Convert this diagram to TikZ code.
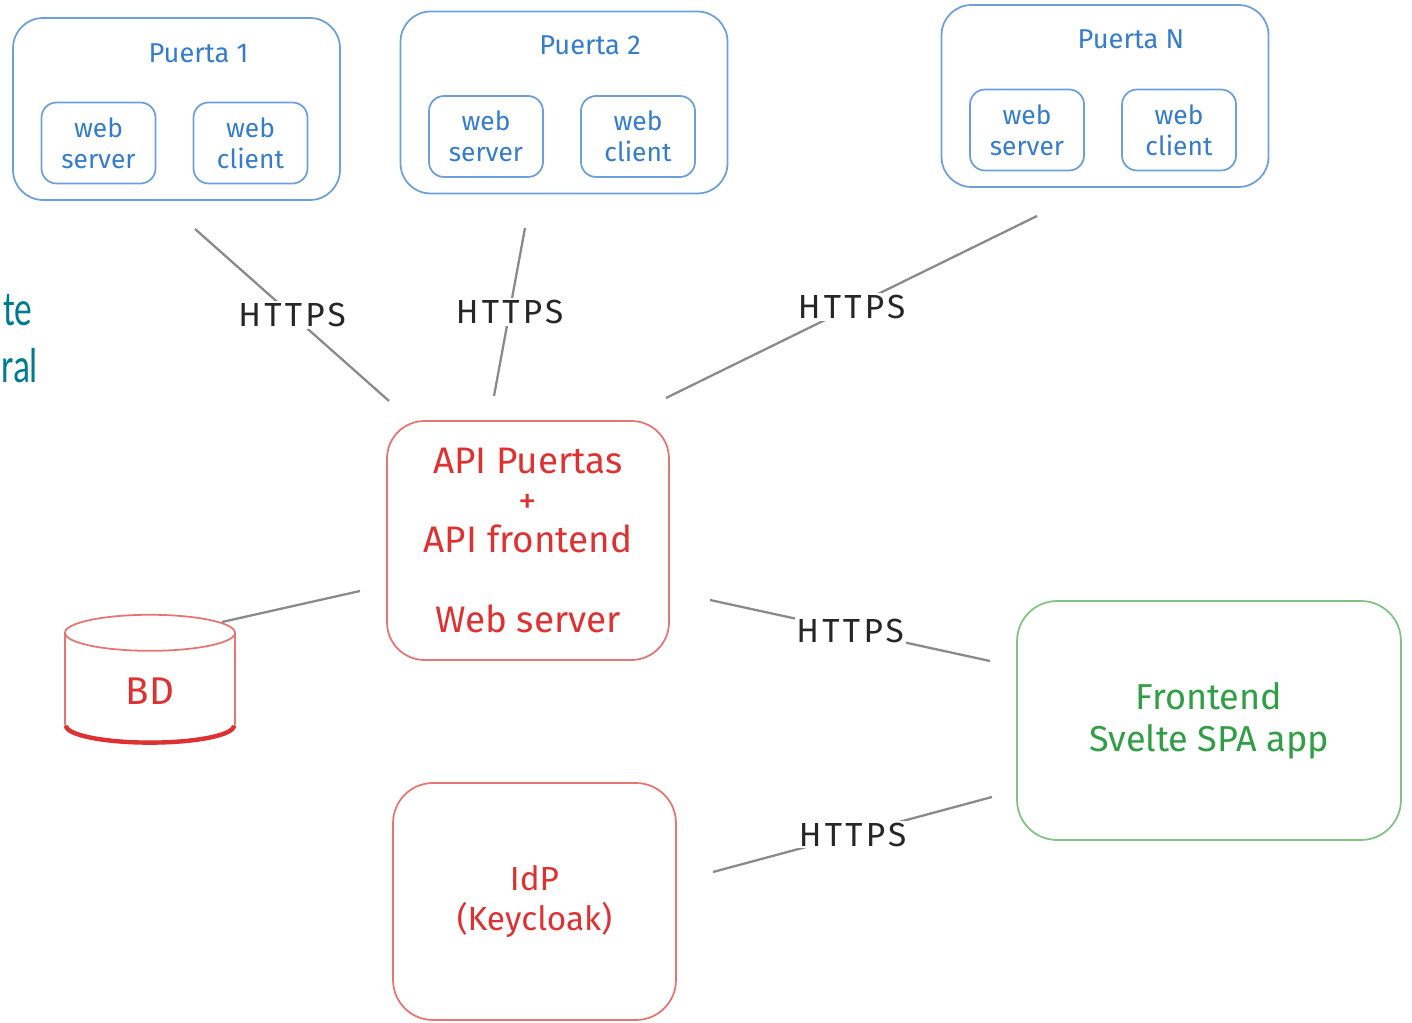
\documentclass[tikz,border=0pt]{standalone}
\usepackage{fontspec}
\setmainfont{Fira Sans}
\newfontfamily\diapofont[FakeStretch=0.72]{Carlito}
\usetikzlibrary{shapes.geometric,calc}
\definecolor{azul}{RGB}{52,124,204}
\definecolor{azulclaro}{RGB}{108,160,220}
\definecolor{rojo}{RGB}{222,50,50}
\definecolor{rojoclaro}{RGB}{232,115,115}
\definecolor{verde}{RGB}{47,158,68}
\definecolor{verdeclaro}{RGB}{128,194,132}
\definecolor{gris}{RGB}{138,138,138}
\definecolor{diapo}{RGB}{0,122,142}
\tikzset{
  puerta/.style={draw=azulclaro, line width=1pt, rounded corners=0.6cm,
    minimum width=6.54cm, minimum height=3.64cm},
  titulo/.style={text=azul, font=\fontsize{15.5}{18}\selectfont},
  modulo/.style={draw=azulclaro, line width=1pt, rounded corners=0.3cm,
    minimum width=2.28cm, minimum height=1.62cm, align=center, text=azul,
    font=\fontsize{15}{17.5}\selectfont},
  caja/.style={line width=1pt, rounded corners=0.75cm, align=center},
  enlace/.style={draw=gris, line width=1.3pt},
  https/.style={fill=white, inner sep=1pt, text=black!85,
    font=\fontsize{19}{20}\selectfont\addfontfeature{LetterSpace=10}},
  diapotexto/.style={anchor=base west, text=diapo, font=\diapofont\fontsize{28}{30}\selectfont}
}
\begin{document}
\begin{tikzpicture}[x=0.02cm, y=-0.02cm]
\useasboundingbox (0,0) rectangle (1412,1023);
% texto de la diapositiva, cortado
\node[diapotexto, inner xsep=0pt] (d1) at (3,326) {te};
\node[diapotexto, inner xsep=0pt] (d2) at (1,383) {ral};
% puertas
\node[puerta] (p1) at (176.5,109) {};
\node[puerta] (p2) at (564,102.5) {};
\node[puerta] (pn) at (1105,96) {};
\node[titulo] (t1) at ([shift={(22,-56)}]p1.center) {Puerta 1};
\node[titulo] (t2) at ([shift={(26,-57)}]p2.center) {Puerta 2};
\node[titulo] (tn) at ([shift={(26,-57)}]pn.center) {Puerta N};
\node[modulo] (s1) at ([shift={(-78,34)}]p1.center) {web\\server};
\node[modulo] (c1) at ([shift={(74,34)}]p1.center) {web\\client};
\node[modulo] (s2) at ([shift={(-78,34)}]p2.center) {web\\server};
\node[modulo] (c2) at ([shift={(74,34)}]p2.center) {web\\client};
\node[modulo] (sn) at ([shift={(-78,34)}]pn.center) {web\\server};
\node[modulo] (cn) at ([shift={(74,34)}]pn.center) {web\\client};
% servidor central
\node[caja, draw=rojoclaro, text=rojo, minimum width=5.64cm, minimum height=4.78cm,
  font=\fontsize{21}{22.5}\selectfont] (api) at (528,540.5)
  {API Puertas\\+\\API frontend\\[22.5pt]Web server};
\node[cylinder, shape border rotate=90, aspect=0.6, draw=rojoclaro, line width=1pt,
  minimum width=3.4cm, minimum height=2.54cm, text=rojo,
  font=\fontsize{22}{24}\selectfont] (bd) at (150,691) {BD};
\draw[rojo, line width=2.5pt] ($(bd.south)+(-84,-17)$)
  arc[start angle=180, end angle=360, x radius=1.68cm, y radius=0.34cm];
\node[caja, draw=verdeclaro, text=verde, minimum width=7.68cm, minimum height=4.78cm,
  rounded corners=0.8cm, font=\fontsize{20.5}{24}\selectfont] (front) at (1209,720.5)
  {Frontend\\Svelte SPA app};
\node[caja, draw=rojoclaro, text=rojo, minimum width=5.66cm, minimum height=4.74cm,
  rounded corners=0.8cm, font=\fontsize{19}{23}\selectfont] (idp) at (534.5,901.5)
  {IdP\\(Keycloak)};
% enlaces
\coordinate (e1a) at (195,229);  \coordinate (e1b) at (389,401);
\coordinate (e2a) at (525,228);  \coordinate (e2b) at (494,396);
\coordinate (e3a) at (1037,216); \coordinate (e3b) at (666,398);
\coordinate (e4a) at (710,600);  \coordinate (e4b) at (990,661);
\coordinate (e5a) at (713,872);  \coordinate (e5b) at (992,797);
\coordinate (e6a) at (222,622);  \coordinate (e6b) at (360,591);
\draw[enlace] (e1a) -- node[https] {HTTPS} (e1b);
\draw[enlace] (e2a) -- node[https] {HTTPS} (e2b);
\draw[enlace] (e3a) -- node[https] {HTTPS} (e3b);
\draw[enlace] (e4a) -- node[https] {HTTPS} (e4b);
\draw[enlace] (e5a) -- node[https] {HTTPS} (e5b);
\draw[enlace] (e6a) -- (e6b);
\end{tikzpicture}
\end{document}
